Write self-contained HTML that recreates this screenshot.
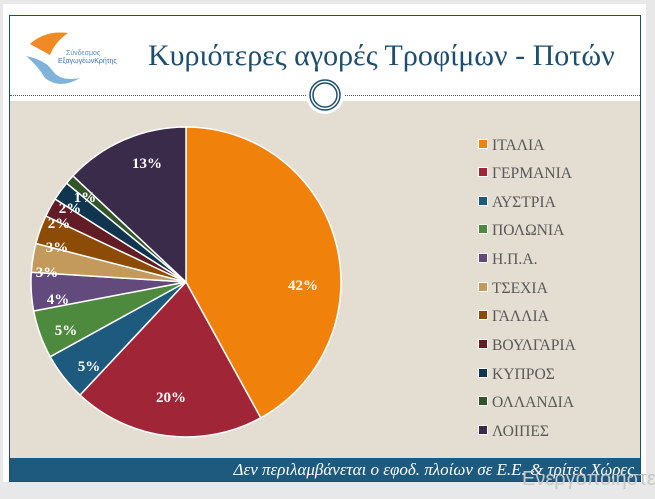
<!DOCTYPE html>
<html><head><meta charset="utf-8"><style>
body{margin:0;width:655px;height:499px;overflow:hidden;background:#e8e8e8;position:relative;font-family:"Liberation Serif","DejaVu Serif",serif}
.page{position:absolute;left:3px;top:4px;width:643px;height:478px;background:#fff}
.frame{position:absolute;left:9px;top:15px;width:630px;height:465px;border:1px solid #1d4e6e;background:#fff}
.beige{position:absolute;left:10px;top:101px;width:630px;height:357px;background:#e3ddd2}
.bar{position:absolute;left:10px;top:458px;width:630px;height:23px;background:#1d5a7e;color:#fff;font-style:italic;font-size:17px;text-align:right;line-height:23px;box-sizing:border-box;padding-right:6px;white-space:nowrap}
.title{position:absolute;left:148px;top:39px;font-size:30px;color:#1d4e6e;white-space:nowrap}
.dots{position:absolute;left:10px;top:95px;width:630px;border-top:1px dotted #555}
.leg{position:absolute;left:478px;font-size:15.6px;color:#595959;white-space:nowrap}
.leg i{display:inline-block;width:8px;height:8px;border:1px solid #fff;margin-right:4px;vertical-align:1px}
.wm{position:absolute;left:522px;top:468px;font-family:"Liberation Sans",sans-serif;font-size:20px;color:#c8c8c8;white-space:nowrap}
</style></head><body>
<div class="page"></div>
<div class="frame"></div>
<div class="beige"></div>
<div class="dots"></div>
<svg style="position:absolute;left:0;top:0" width="655" height="499">
<circle cx="325" cy="95" r="19" fill="#fff"/>
<circle cx="325" cy="95" r="15" fill="none" stroke="#1d4e6e" stroke-width="1.5"/>
<circle cx="325" cy="95" r="12" fill="none" stroke="#1d4e6e" stroke-width="1.5"/>
<path d="M30 44 Q45 30 68 33 Q55 42 50 55 Z" fill="#f08a24"/>
<path d="M26 56 Q45 60 52 70 Q60 82 80 78 Q60 90 45 78 Q38 66 26 56Z" fill="#7fb3dc"/>
<text x="66" y="55" font-family="Liberation Sans,sans-serif" font-size="7" fill="#5a8fc0">Σύνδεσμος</text>
<text x="58" y="63" font-family="Liberation Sans,sans-serif" font-size="7" fill="#3a70b0">ΕξαγωγέωνΚρήτης</text>
<g stroke="#fff" stroke-width="1.5" stroke-linejoin="round">
<path d="M186 282L186 127A155 155 0 0 1 260.7 417.8Z" fill="#f0820c"/>
<path d="M186 282L260.7 417.8A155 155 0 0 1 80 395Z" fill="#a02537"/>
<path d="M186 282L80 395A155 155 0 0 1 50.2 356.7Z" fill="#1d5a7e"/>
<path d="M186 282L50.2 356.7A155 155 0 0 1 33.7 311Z" fill="#4e8a3e"/>
<path d="M186 282L33.7 311A155 155 0 0 1 31.3 272.3Z" fill="#624a7c"/>
<path d="M186 282L31.3 272.3A155 155 0 0 1 35.9 243.5Z" fill="#c39a5c"/>
<path d="M186 282L35.9 243.5A155 155 0 0 1 45.8 216Z" fill="#8c4c06"/>
<path d="M186 282L45.8 216A155 155 0 0 1 55.1 199Z" fill="#621c25"/>
<path d="M186 282L55.1 199A155 155 0 0 1 66.6 183.2Z" fill="#10354f"/>
<path d="M186 282L66.6 183.2A155 155 0 0 1 73 175.9Z" fill="#315528"/>
<path d="M186 282L73 175.9A155 155 0 0 1 186 127Z" fill="#3a2b4a"/>
</g>
<g fill="#fff" font-weight="bold" font-size="15" text-anchor="middle">
<text x="303" y="290">42%</text><text x="171" y="402">20%</text>
<text x="89" y="371">5%</text><text x="66" y="335">5%</text>
<text x="58" y="304">4%</text><text x="47" y="277">3%</text>
<text x="57" y="252">3%</text><text x="59" y="228">2%</text>
<text x="70" y="213">2%</text><text x="85" y="202">1%</text>
<text x="147" y="168">13%</text>
</g>
</svg>
<div class="title">Κυριότερες αγορές Τροφίμων - Ποτών</div>
<div class="leg" style="top:137px"><i style="background:#f0820c"></i>ΙΤΑΛΙΑ</div>
<div class="leg" style="top:165px"><i style="background:#a02537"></i>ΓΕΡΜΑΝΙΑ</div>
<div class="leg" style="top:194px"><i style="background:#1d5a7e"></i>ΑΥΣΤΡΙΑ</div>
<div class="leg" style="top:222px"><i style="background:#4e8a3e"></i>ΠΟΛΩΝΙΑ</div>
<div class="leg" style="top:251px"><i style="background:#624a7c"></i>Η.Π.Α.</div>
<div class="leg" style="top:280px"><i style="background:#c39a5c"></i>ΤΣΕΧΙΑ</div>
<div class="leg" style="top:308px"><i style="background:#8c4c06"></i>ΓΑΛΛΙΑ</div>
<div class="leg" style="top:337px"><i style="background:#621c25"></i>ΒΟΥΛΓΑΡΙΑ</div>
<div class="leg" style="top:366px"><i style="background:#10354f"></i>ΚΥΠΡΟΣ</div>
<div class="leg" style="top:394px"><i style="background:#315528"></i>ΟΛΛΑΝΔΙΑ</div>
<div class="leg" style="top:423px"><i style="background:#3a2b4a"></i>ΛΟΙΠΕΣ</div>
<div class="bar">Δεν περιλαμβάνεται ο εφοδ. πλοίων σε Ε.Ε. &amp; τρίτες Χώρες</div>
<div class="wm">Ενεργοποιήστε</div>
</body></html>
